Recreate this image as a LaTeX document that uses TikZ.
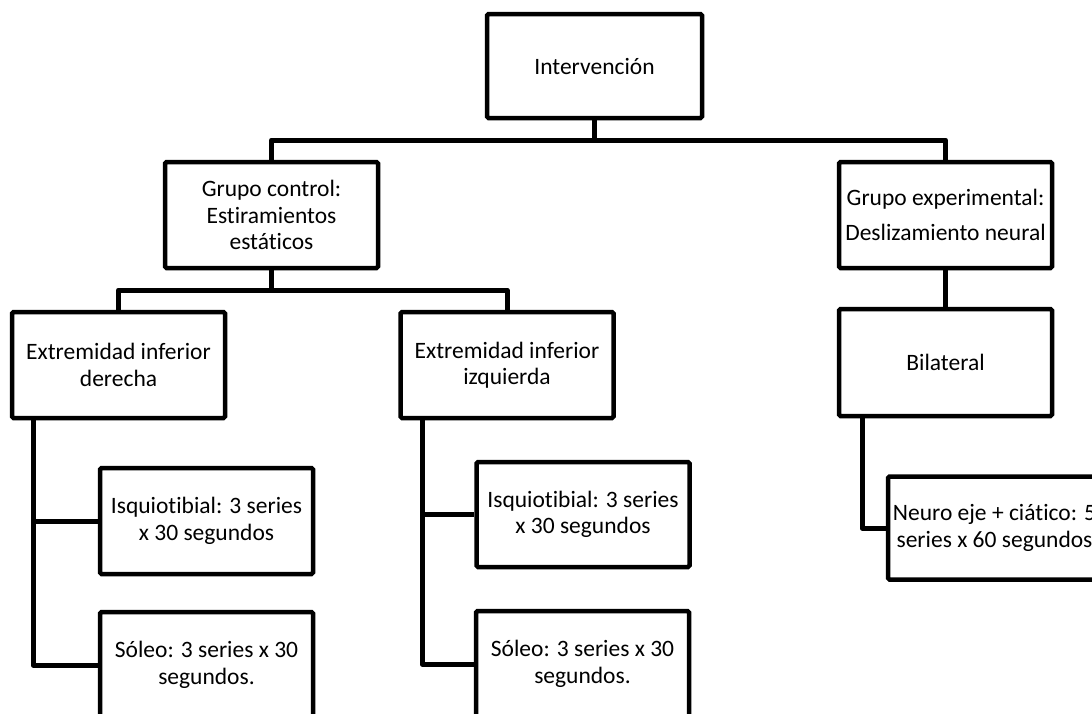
\documentclass[tikz,border=0pt]{standalone}
\usepackage{fontspec}
\setmainfont{Carlito}[Ligatures={NoCommon}]
\usetikzlibrary{calc}
\begin{document}
\begin{tikzpicture}[x=1pt,y=-1pt,
  box/.style={draw=black, line width=4.5pt, rounded corners=1.5pt, fill=white,
    minimum width=213pt, minimum height=106pt, inner sep=0pt, align=center,
    font=\fontsize{23.5}{26.5}\selectfont},
  conn/.style={draw=black, line width=5pt, line join=round}]
\useasboundingbox (0,0) rectangle (1092,713);
\clip (0,0) rectangle (1092,713);
\fill[white] (0,0) rectangle (1092,713);

\coordinate (j1) at (594.5,140);
\coordinate (j2) at (271.5,290);
\coordinate (t1) at (33,418);
\coordinate (t2) at (422,418);
\coordinate (t3) at (862,416);

\node[box, minimum width=215pt, minimum height=104pt] (int) at (594.5,66) {Intervención};
\node[box] (gc) at (271.5,215) {Grupo control:\\Estiramientos\\estáticos};
\node[box, font=\fontsize{23.5}{35}\selectfont] (ge) at (945.5,215) {Grupo experimental:\\Deslizamiento neural};
\node[box] (ed) at (118.5,365) {Extremidad inferior\\derecha};
\node[box] (ei) at (507,365) {Extremidad inferior\\izquierda};
\node[box, minimum height=107pt] (bi) at (945.5,362.5) {Bilateral};
\node[box] (isq1) at (206.5,521) {Isquiotibial: 3 series\\x 30 segundos};
\node[box, minimum height=105pt] (isq2) at (583,514.5) {Isquiotibial: 3 series\\x 30 segundos};
\node[box] (sol1) at (206.5,665) {Sóleo: 3 series x 30\\segundos.};
\node[box] (sol2) at (582.5,664) {Sóleo: 3 series x 30\\segundos.};
\node[box, minimum height=103pt] (neu) at (994.5,528) {Neuro eje + ciático: 5\\series x 60 segundos};

\draw[conn] (int.south) -- (j1);
\draw[conn] (gc.north) |- (j1) -| (ge.north);
\draw[conn] (gc.south) -- (j2);
\draw[conn] (ed.north) |- (j2) -| (ei.north);
\draw[conn] (t1) |- (sol1.west);
\draw[conn] (t1 |- isq1.west) -- (isq1.west);
\draw[conn] (t2) |- (sol2.west);
\draw[conn] (t2 |- isq2.west) -- (isq2.west);
\draw[conn] (ge.south) -- (bi.north);
\draw[conn] (t3) |- (neu.west);
\end{tikzpicture}
\end{document}
